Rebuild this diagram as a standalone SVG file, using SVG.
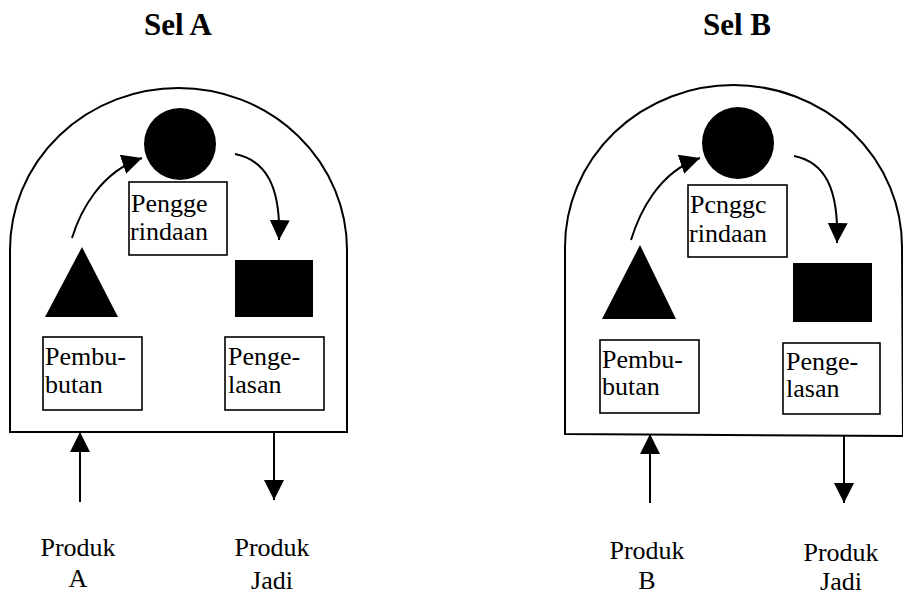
<svg xmlns="http://www.w3.org/2000/svg" width="903" height="596" viewBox="0 0 903 596">
<style>
.cell{fill:none;stroke:#000;stroke-width:2}
.box{fill:#fff;stroke:#000;stroke-width:1.6}
.shape{fill:#000;stroke:none}
text{font-family:'Liberation Serif','Times New Roman','DejaVu Serif',serif;fill:#000}
.t{font-size:26px}
.title{font-size:31px;font-weight:bold;text-anchor:middle}
.lbl{font-size:26px;text-anchor:middle}
.arr{fill:none;stroke:#000;stroke-width:2;marker-end:url(#ah)}
</style>
<defs>
<marker id="ah" viewBox="0 0 20 20" refX="20" refY="10" markerWidth="20" markerHeight="20" markerUnits="userSpaceOnUse" orient="auto">
<path d="M0,0 L20,10 L0,20 Z" fill="#000"/>
</marker>
</defs>
<rect width="903" height="596" fill="#fff"/>

<g id="selA">
<text class="title" x="178" y="35">Sel A</text>
<path class="cell" d="M10,432 L10,250 A168.5,162 0 0 1 347,250 L347,432 Z"/>
</g>
<g id="penggerindaanA">
<circle class="shape" cx="180" cy="144" r="36"/>
<rect class="box" x="129" y="182" width="98" height="73"/>
<text class="t" x="131" y="212">Pengge</text>
<text class="t" x="130" y="240">rindaan</text>
</g>
<g id="pembubutanA">
<polygon class="shape" points="82,247 118,317 45,317"/>
<rect class="box" x="43" y="337" width="99" height="73"/>
<text class="t" x="45" y="365">Pembu-</text>
<text class="t" x="45" y="393">butan</text>
</g>
<g id="pengelasanA">
<rect class="shape" x="235" y="260" width="78" height="57"/>
<rect class="box" x="225" y="337" width="99" height="73"/>
<text class="t" x="228" y="365">Penge-</text>
<text class="t" x="228" y="393">lasan</text>
</g>
<g id="labelsA">
<text class="lbl" x="78" y="556">Produk</text>
<text class="lbl" x="78" y="587">A</text>
<text class="lbl" x="272" y="556">Produk</text>
<text class="lbl" x="272" y="589">Jadi</text>
</g>

<g id="selB">
<text class="title" x="737" y="35">Sel B</text>
<path class="cell" d="M565,434 L565,247 A168.5,162 0 0 1 902,247 L903,436 Z"/>
</g>
<g id="penggerindaanB">
<circle class="shape" cx="738" cy="143" r="36"/>
<rect class="box" x="688" y="185" width="99" height="72"/>
<text class="t" x="690" y="213">Pcnggc</text>
<text class="t" x="689" y="242">rindaan</text>
</g>
<g id="pembubutanB">
<polygon class="shape" points="640,245 676,319 602,319"/>
<rect class="box" x="600" y="340" width="99" height="73"/>
<text class="t" x="602" y="368">Pembu-</text>
<text class="t" x="602" y="395">butan</text>
</g>
<g id="pengelasanB">
<rect class="shape" x="793" y="263" width="79" height="59"/>
<rect class="box" x="783" y="343" width="97" height="71"/>
<text class="t" x="786" y="370">Penge-</text>
<text class="t" x="786" y="397">lasan</text>
</g>
<g id="labelsB">
<text class="lbl" x="647" y="559">Produk</text>
<text class="lbl" x="647" y="589">B</text>
<text class="lbl" x="841" y="561">Produk</text>
<text class="lbl" x="841" y="590">Jadi</text>
</g>

<g id="connectors">
<path class="arr" d="M72,238 C80,212 100,172 142,158"/>
<path class="arr" d="M235,154 C265,160 281,185 279,240"/>
<path class="arr" d="M80,502 L80,432"/>
<path class="arr" d="M274,432 L274,500"/>
<path class="arr" d="M631,240 C639,214 658,172 700,158"/>
<path class="arr" d="M794,156 C824,162 839,187 837,243"/>
<path class="arr" d="M650,503 L650,434"/>
<path class="arr" d="M844,436 L844,503"/>
</g>
</svg>
